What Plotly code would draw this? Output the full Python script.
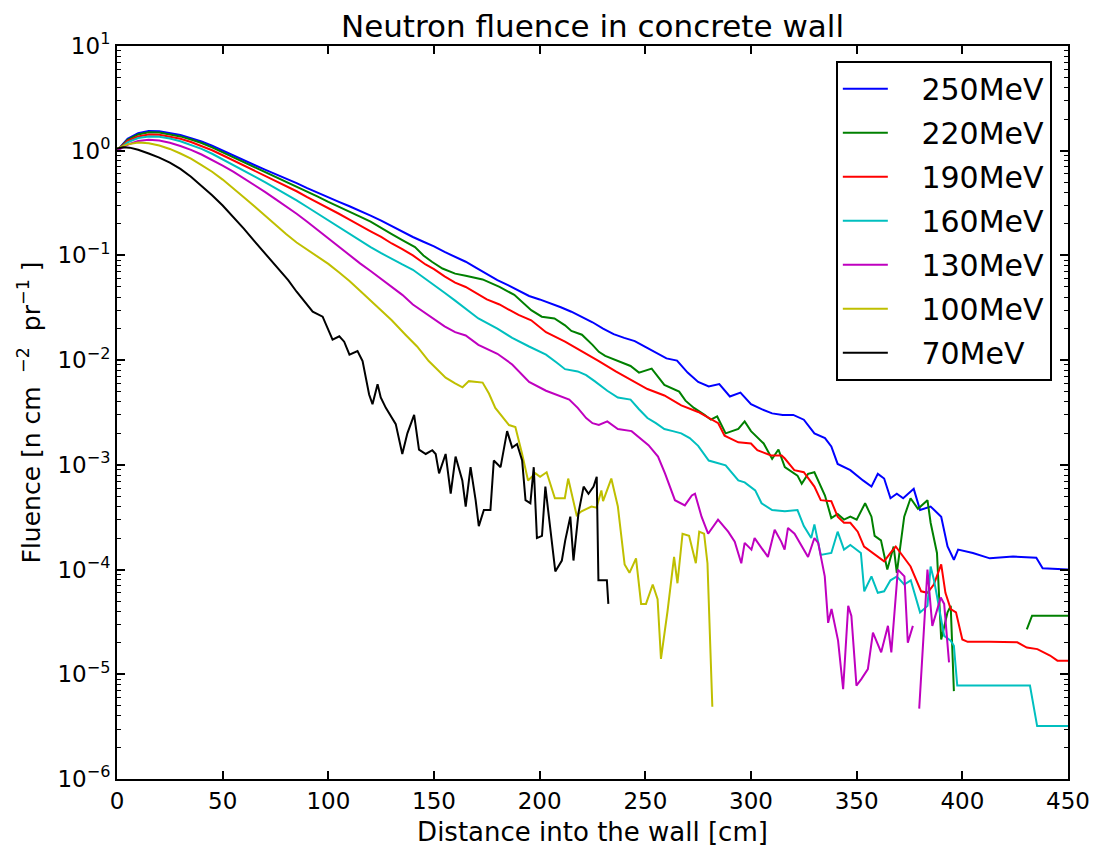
import plotly.graph_objects as go

# ---------------- data ----------------
x_250 = [0, 5, 10, 15, 20, 25, 30, 35, 40, 45, 50, 55, 60, 65, 70, 75, 80, 85, 90, 95, 100,
         105, 110, 115, 120, 125, 130, 135, 140, 145, 150, 155, 160, 165, 170, 175, 180, 185,
         190, 195, 200, 205, 210, 215, 220, 225, 230, 235, 240, 245, 250, 255, 260, 265, 270,
         275, 280, 285, 290, 295, 300, 305, 310, 315, 320, 325, 330, 335, 338, 341, 347, 353,
         357, 360, 363, 366, 369, 372, 377, 380, 385, 390, 393, 396, 398, 405, 413, 424, 435,
         438, 450]
y_250 = [1.0, 1.3, 1.47, 1.54, 1.53, 1.48, 1.41, 1.32, 1.225, 1.115, 1.0, 0.9, 0.81, 0.73, 0.66,
         0.6, 0.54, 0.49, 0.44, 0.4, 0.36, 0.325, 0.295, 0.268, 0.24, 0.215, 0.19, 0.168,
         0.15, 0.135, 0.122, 0.108, 0.097, 0.087, 0.076, 0.066, 0.058, 0.052, 0.046, 0.041,
         0.038, 0.035, 0.032, 0.029, 0.026, 0.023, 0.02, 0.0177, 0.0163, 0.0152, 0.0134, 0.0118,
         0.0104, 0.0099, 0.0076, 0.0062, 0.0056, 0.0059, 0.0045, 0.0049, 0.0038, 0.0034, 0.0031,
         0.003, 0.003, 0.0027, 0.002, 0.0018, 0.0015, 0.00102, 0.00089, 0.00071, 0.00062,
         0.00082, 0.00074, 0.00048, 0.00053, 0.00048, 0.00059, 0.00037, 0.0004, 0.00032,
         0.000166, 0.000124, 0.000155, 0.000144, 0.000128, 0.000133, 0.00013, 0.000103, 0.0001]

x_220 = [0, 5, 10, 15, 20, 25, 30, 35, 40, 45, 50, 55, 60, 65, 70, 75, 80, 85, 90, 95, 100,
         105, 110, 115, 120, 125, 130, 135, 141, 145, 149, 154, 160, 165, 173, 181, 188, 196,
         201, 207, 212, 215, 220, 225, 228, 231, 237, 243, 247, 253, 259, 266, 269, 273, 278,
         281, 284, 288, 294, 297, 300, 306, 310, 313, 316, 322, 324, 327, 330, 335, 338, 341,
         344, 347, 350, 354, 357, 358.5, 361.5, 364.5, 367.5, 369, 372.5, 375.5, 379, 383.5,
         385, 388, 390, 393, 394.5, 396, None, 430.5, 433, 450]
y_220 = [1.0, 1.27, 1.43, 1.5, 1.49, 1.44, 1.37, 1.28, 1.185, 1.075, 0.965, 0.865, 0.775, 0.7,
         0.63, 0.565, 0.51, 0.455, 0.41, 0.365, 0.325, 0.29, 0.26, 0.235, 0.21, 0.185, 0.16, 0.14,
         0.12, 0.1, 0.087, 0.075, 0.067, 0.064, 0.059, 0.05, 0.042, 0.03, 0.026, 0.025, 0.0215,
         0.019, 0.0175, 0.014, 0.012, 0.011, 0.0098, 0.0088, 0.0076, 0.0083, 0.0058, 0.005,
         0.0041, 0.0035, 0.003, 0.0027, 0.0029, 0.002, 0.0022, 0.0026, 0.0021, 0.0016, 0.00114,
         0.0014, 0.00095, 0.00079, 0.00066, 0.00082, 0.00085, 0.00051, 0.00031, 0.00034,
         0.0003, 0.00032, 0.0003, 0.00043, 0.00032, 0.00021, 0.00019, 0.0001, 0.000166,
         0.000093, 0.00032, 0.00048, 0.00038, 0.00046, 0.00028, 0.000144, 0.0000215, 0.000039,
         0.000045, 0.0000069, None, 0.0000269, 0.0000363, 0.0000363]

x_190 = [0, 5, 10, 15, 20, 25, 30, 35, 40, 45, 50, 55, 60, 65, 70, 75, 80, 85, 90, 95, 100,
         105, 110, 115, 120, 125, 130, 135, 140, 146, 150, 155, 160, 165, 171, 175, 181, 190,
         196, 203, 212, 220, 228, 236, 244, 251, 259, 267, 275, 283, 284.5, 287.5, 294, 300,
         303, 309.5, 314.5, 316, 320.5, 325, 330, 333, 338, 341, 344, 347, 350.5, 353.5, 357,
         360, 363, 366, 368.5, 375.5, 380.5, 383.5, 386.5, 390, 392, 394.5, 397, 400, 402.5,
         413, 426, 430.5, 435.5, 441.5, 445, 450]
y_190 = [1.0, 1.24, 1.37, 1.43, 1.42, 1.37, 1.3, 1.21, 1.115, 1.01, 0.905, 0.81, 0.725, 0.65,
         0.58, 0.515, 0.46, 0.41, 0.36, 0.32, 0.285, 0.25, 0.22, 0.195, 0.17, 0.15, 0.13, 0.115,
         0.1, 0.082, 0.074, 0.063, 0.055, 0.05, 0.042, 0.038, 0.034, 0.027, 0.024, 0.0185,
         0.015, 0.0122, 0.0098, 0.0078, 0.0064, 0.0053, 0.0046, 0.0037, 0.0032, 0.0026, 0.0025,
         0.0019, 0.00164, 0.0016, 0.00138, 0.00123, 0.00123, 0.00115, 0.00089, 0.00085,
         0.00062, 0.00046, 0.00045, 0.00032, 0.00028, 0.00028, 0.00023, 0.000166, 0.000148,
         0.000133, 0.00012, 0.000144, 0.000166, 0.000107, 0.000062, 0.00006, 0.000072, 0.000112,
         0.00006, 0.000042, 0.000039, 0.0000215, 0.0000204, 0.0000204, 0.0000202, 0.000018,
         0.0000174, 0.0000151, 0.0000135, 0.0000135]

x_160 = [0, 5, 10, 15, 20, 25, 30, 35, 40, 45, 50, 55, 60, 65, 70, 75, 80, 85, 90, 95, 100,
         105, 110, 115, 120, 125, 130, 135, 140, 145, 150, 155, 160, 165, 171, 180, 187, 195,
         203, 208, 212, 218, 222, 226, 232, 237, 243, 247, 251, 255, 259, 263, 267, 271, 275,
         280, 284, 288, 294, 297, 302, 305, 310, 316, 322, 325, 328.5, 330, 333, 338, 341, 344,
         347, 352, 353.6, 357, 360, 363, 366, 369, 372.5, 375.6, 380, 383.5, 385, 386.6, 388,
         391.4, 394.5, 396, 397.6, 432, 435.4, 450]
y_160 = [1.0, 1.2, 1.32, 1.37, 1.36, 1.31, 1.23, 1.14, 1.04, 0.935, 0.83, 0.735, 0.65, 0.57,
         0.5, 0.44, 0.385, 0.335, 0.29, 0.25, 0.215, 0.185, 0.16, 0.138, 0.12, 0.105, 0.092,
         0.082, 0.073, 0.062, 0.052, 0.044, 0.037, 0.031, 0.025, 0.02, 0.0163, 0.0135, 0.0113,
         0.0095, 0.0082, 0.0078, 0.0072, 0.0063, 0.0051, 0.0044, 0.0042, 0.0034, 0.0028,
         0.0025, 0.0022, 0.0021, 0.002, 0.0018, 0.00152, 0.0011, 0.00105, 0.00099, 0.00071,
         0.00068, 0.00057, 0.00043, 0.00037, 0.00036, 0.00037, 0.00026, 0.0002, 0.00027,
         0.000138, 0.000144, 0.00023, 0.000155, 0.000172, 0.000144, 0.000062, 0.000086,
         0.00006, 0.000062, 0.000079, 0.000086, 0.000072, 0.000079, 0.000039, 0.000045,
         0.000107, 0.000079, 0.000056, 0.0000233, 0.0000209, 0.0000187, 0.0000078, 0.0000078,
         0.0000032, 0.0000032]

x_130 = [0, 5, 10, 15, 20, 25, 30, 35, 40, 45, 50, 55, 60, 65, 70, 75, 80, 85, 90, 95, 100,
         105, 110, 115, 120, 125, 130, 135, 140, 145, 150, 155, 160, 165, 171, 180, 187, 195,
         203, 210, 214, 218, 222, 225, 228, 232, 237, 243.5, 251.5, 256, 259.3, 264, 268.7,
         272, 273.5, 276.6, 279.7, 284.4, 289.2, 292.3, 295.4, 297, 300.2, 301.7, 303.3, 308,
         311.2, 314.3, 315.9, 317.5, 320.6, 323.8, 327, 330, 331.8, 334.9, 336.5, 338.1, 341.2,
         343.6, 346, 347.5, 349.9, 352.2, 355.3, 357.7, 361.6, 364.8, 366.4, 369.5, 372.6,
         374.2, 376.6, None, 379.6, 383.5, 385.8, 389.8, 391.4, 393.7]
y_130 = [1.0, 1.14, 1.24, 1.27, 1.25, 1.19, 1.11, 1.02, 0.92, 0.82, 0.72, 0.63, 0.545, 0.47,
         0.405, 0.345, 0.295, 0.25, 0.21, 0.175, 0.145, 0.12, 0.1, 0.084, 0.071, 0.06, 0.05,
         0.042, 0.034, 0.029, 0.025, 0.021, 0.0185, 0.0172, 0.014, 0.0115, 0.0091, 0.0062,
         0.0051, 0.0045, 0.0042, 0.0035, 0.0028, 0.0025, 0.0024, 0.0026, 0.0022, 0.0021,
         0.00154, 0.0012, 0.00083, 0.00046, 0.00041, 0.00051, 0.00053, 0.00032, 0.00022,
         0.0003, 0.00023, 0.000185, 0.000115, 0.00018, 0.000155, 0.0002, 0.00018, 0.000132,
         0.00024, 0.000185, 0.000155, 0.00025, 0.00022, 0.00017, 0.000132, 0.0002, 0.00018,
         0.000086, 0.000031, 0.000042, 0.000021, 0.0000072, 0.000045, 0.000036, 0.0000078,
         0.000009, 0.0000112, 0.000025, 0.0000162, 0.000029, 0.0000162, 0.0001, 0.000086,
         0.00002, 0.000029, None, 0.0000047, 0.0001, 0.000029, 0.000054, 0.000047, 0.000013]

x_100 = [0, 5, 10, 15, 20, 25, 30, 35, 40, 45, 50, 55, 60, 65, 70, 75, 80, 85, 90, 95, 100,
         105, 110, 115, 120, 124, 130, 136.5, 142, 147.5, 155.5, 160, 163.5, 166.5, 173, 176,
         179, 185.5, 188.5, 191.7, 194.5, 198, 200.2, 203.3, 207.2, 211.9, 213.5, 217.5, 219.8,
         224.5, 226.9, 229.2, 230, 233.9, 237, 240.2, 242.5, 245.6, 248, 250.3, 253.5, 255.8,
         257.4, 260.5, 263.6, 265.2, 267.6, 270.7, 273.9, 275.5, 277.8, 279.4, 281.7]
y_100 = [1.05, 1.15, 1.2, 1.18, 1.12, 1.04, 0.94, 0.84, 0.73, 0.63, 0.53, 0.44, 0.36, 0.295,
         0.24, 0.195, 0.16, 0.133, 0.113, 0.097, 0.083, 0.069, 0.057, 0.046, 0.037, 0.031,
         0.024, 0.0175, 0.0135, 0.0098, 0.0068, 0.006, 0.0055, 0.0063, 0.0061, 0.0048, 0.0035,
         0.0024, 0.0023, 0.00127, 0.00071, 0.00083, 0.00077, 0.00085, 0.00048, 0.00048,
         0.00074, 0.00033, 0.00036, 0.0004, 0.00039, 0.00057, 0.00045, 0.00074, 0.0004,
         0.000112, 0.000093, 0.000128, 0.000047, 0.000047, 0.000072, 0.000052, 0.000014,
         0.00004, 0.000132, 0.000074, 0.00022, 0.00021, 0.000115, 0.00023, 0.00022, 0.000115,
         0.0000049]

x_70 = [0, 3, 6, 10, 15, 20, 25, 30, 35, 40, 45, 50, 55, 60, 65, 70, 75, 77, 81, 85, 89,
        92.6, 97.3, 100.5, 102, 105.2, 107.5, 110, 113.8, 116.2, 119.3, 120.9, 123.3, 124.8,
        127.2, 131.9, 135, 137.4, 140.6, 142.9, 146.1, 149.2, 150.8, 152.4, 155.5, 157.9,
        160.2, 163.4, 165, 167.3, 169.7, 171.2, 173.6, 176.7, 178.3, 181.5, 184.6, 187, 189.3,
        191.7, 193.3, 195.6, 197.2, 198.7, 201.1, 202.7, 205, 207.4, 210.5, 212.1, 214.5, 216,
        218.4, 220.8, 223.1, 225.5, 227, 227.8, 231.8, 232.5]
y_70 = [1.05, 1.08, 1.07, 1.02, 0.94, 0.86, 0.77, 0.67, 0.565, 0.465, 0.375, 0.3, 0.235, 0.18,
        0.137, 0.104, 0.08, 0.072, 0.058, 0.045, 0.036, 0.029, 0.026, 0.0188, 0.0157, 0.0169,
        0.015, 0.0113, 0.0122, 0.0098, 0.0047, 0.0038, 0.0059, 0.0044, 0.0035, 0.00245,
        0.00127, 0.002, 0.003, 0.0014, 0.00127, 0.00138, 0.00127, 0.00083, 0.00127, 0.00053,
        0.0012, 0.00071, 0.0004, 0.00095, 0.00046, 0.00026, 0.00037, 0.00037, 0.0011, 0.00095,
        0.0021, 0.00146, 0.00158, 0.0011, 0.00046, 0.00043, 0.00095, 0.0002, 0.00021, 0.00062,
        0.00024, 0.000096, 0.000122, 0.00019, 0.00032, 0.000122, 0.00035, 0.00062, 0.00053,
        0.00062, 0.00077, 0.000079, 0.000079, 0.000047]

series_names = ["250MeV", "220MeV", "190MeV", "160MeV", "130MeV", "100MeV", "70MeV"]
series_colors = ["#0000ff", "#008000", "#ff0000", "#00bfbf", "#bf00bf", "#bfbf00", "#000000"]
series_x = [x_250, x_220, x_190, x_160, x_130, x_100, x_70]
series_y = [y_250, y_220, y_190, y_160, y_130, y_100, y_70]

x_tick_vals = [0, 50, 100, 150, 200, 250, 300, 350, 400, 450]
y_tick_vals = [1e-6, 1e-5, 1e-4, 1e-3, 1e-2, 1e-1, 1e0, 1e1]
y_tick_text = ["10<sup>−6</sup>", "10<sup>−5</sup>", "10<sup>−4</sup>", "10<sup>−3</sup>",
               "10<sup>−2</sup>", "10<sup>−1</sup>", "10<sup>0</sup>", "10<sup>1</sup>"]
y_minor_vals = [m * d for d in [1e-6, 1e-5, 1e-4, 1e-3, 1e-2, 1e-1, 1e0] for m in range(2, 10)]

FONT = "DejaVu Sans"
PAD = "\u00a0\u00a0\u00a0"  # gap between legend line sample and its label

fig = go.Figure()
for nm, xs, ys, col in zip(series_names, series_x, series_y, series_colors):
    fig.add_trace(go.Scatter(x=xs, y=ys, mode="lines", name=PAD + nm, legendgroup=nm,
                             line=dict(color=col, width=2), connectgaps=False))

fig.update_layout(
    width=1102, height=854,
    margin=dict(l=117, r=31, t=46, b=70),
    paper_bgcolor="white", plot_bgcolor="white",
    font=dict(family=FONT, color="black"),
    title=dict(text="Neutron fluence in concrete wall", x=0.5, xref="paper",
               y=1 - 26 / 854, yref="container", yanchor="middle",
               font=dict(size=31, family=FONT, color="black")),
    showlegend=True,
    legend=dict(x=0.983, xanchor="right", y=0.98, yanchor="top",
                bgcolor="white", bordercolor="black", borderwidth=2,
                font=dict(size=30, family=FONT, color="black"),
                itemwidth=45, tracegroupgap=2),
)

fig.update_xaxes(
    range=[0, 450], tickmode="array", tickvals=x_tick_vals,
    ticks="inside", ticklen=8, tickwidth=1.5, tickcolor="black",
    showline=True, linecolor="black", linewidth=2, mirror="allticks",
    showgrid=False, zeroline=False,
    tickfont=dict(size=23, family=FONT, color="black"),
    title=dict(text="Distance into the wall [cm]", font=dict(size=26, family=FONT, color="black"),
               standoff=10),
)

fig.update_yaxes(
    type="log", range=[-6, 1], tickmode="array", tickvals=y_tick_vals, ticktext=y_tick_text,
    ticks="inside", ticklen=8, tickwidth=1.5, tickcolor="black",
    showline=True, linecolor="black", linewidth=2, mirror="allticks",
    showgrid=False, zeroline=False,
    tickfont=dict(size=23, family=FONT, color="black"),
    minor=dict(tickmode="array", tickvals=y_minor_vals, ticks="inside", ticklen=4,
               tickwidth=1, tickcolor="black", showgrid=False),
    title=dict(text="Fluence [n cm <sup> −2</sup>  pr<sup>−1</sup> ]",
               font=dict(size=25, family=FONT, color="black"), standoff=10),
)

fig.write_html("out.html")
